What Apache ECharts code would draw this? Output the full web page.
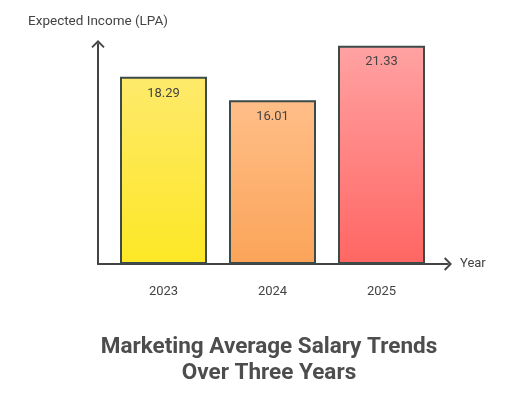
<!DOCTYPE html>
<html>
<head>
<meta charset="utf-8">
<style>html,body{margin:0;padding:0;background:#fff}#c{width:512px;height:395px}</style>
<script src="https://cdn.jsdelivr.net/npm/echarts@6/dist/echarts.min.js"></script>
</head>
<body>
<div id="c"></div>
<script>
const categories = ['2023', '2024', '2025'];
const salaries = [18.29, 16.01, 21.33];
const yAxisName = 'Expected Income (LPA)';
const xAxisName = 'Year';
const titleText = 'Marketing Average Salary Trends\nOver Three Years';

const topColors = ['#feea6b', '#ffbe88', '#ffa2a2'];
const bottomColors = ['#fde725', '#fba459', '#ff6663'];

const chart = echarts.init(document.getElementById('c'), null, {renderer: 'canvas'});
const FONT = 'Roboto';
const chevron = 'path://M0,7 L7,0 L14,7 L12.6,8.4 L7,2.8 L1.4,8.4 Z';

const option = {
  animation: false,
  backgroundColor: '#ffffff',
  textStyle: {fontFamily: FONT},
  title: {
    text: titleText,
    left: 269,
    textAlign: 'center',
    top: 334,
    padding: 0,
    textStyle: {fontFamily: FONT, fontSize: 22.5, fontWeight: 'bold', color: '#4d4d4d', lineHeight: 26}
  },
  grid: [
    {left: 98, top: 44, width: 350, height: 220},
    {left: 109, top: 44, width: 327, height: 220}
  ],
  xAxis: [
    {
      gridIndex: 0, type: 'value', min: 0, max: 1,
      name: xAxisName, nameLocation: 'end', nameGap: 12,
      nameTextStyle: {fontFamily: FONT, fontSize: 13, color: '#444', verticalAlign: 'middle'},
      axisLine: {show: true, symbol: ['none', chevron], symbolSize: [14, 8], lineStyle: {color: '#444', width: 2}},
      axisTick: {show: false}, axisLabel: {show: false}, splitLine: {show: false}
    },
    {
      gridIndex: 1, type: 'category', data: categories,
      axisLine: {show: false}, axisTick: {show: false},
      axisLabel: {margin: 21, fontFamily: FONT, fontSize: 13, color: '#444'},
      splitLine: {show: false}
    }
  ],
  yAxis: [
    {
      gridIndex: 0, type: 'value', min: 0, max: 1,
      name: yAxisName, nameLocation: 'end', nameGap: 15,
      nameTextStyle: {fontFamily: FONT, fontSize: 13.5, color: '#444', align: 'center'},
      axisLine: {show: true, symbol: ['none', chevron], symbolSize: [14, 8], lineStyle: {color: '#444', width: 2}},
      axisTick: {show: false}, axisLabel: {show: false}, splitLine: {show: false}
    },
    {
      gridIndex: 1, type: 'value', min: 0, max: 21.5,
      axisLine: {show: false}, axisTick: {show: false}, axisLabel: {show: false}, splitLine: {show: false}
    }
  ],
  series: [{
    type: 'bar',
    xAxisIndex: 1, yAxisIndex: 1,
    barWidth: 87,
    data: salaries.map((v, i) => ({
      value: v,
      itemStyle: {
        color: new echarts.graphic.LinearGradient(0, 0, 0, 1, [
          {offset: 0, color: topColors[i]},
          {offset: 1, color: bottomColors[i]}
        ]),
        borderColor: '#3d4a4a',
        borderWidth: 2
      }
    })),
    label: {
      show: true, position: 'insideTop', distance: 10,
      fontFamily: FONT, fontSize: 13, color: '#444',
      formatter: p => p.value.toFixed(2)
    }
  }]
};
chart.setOption(option);
</script>
</body>
</html>
